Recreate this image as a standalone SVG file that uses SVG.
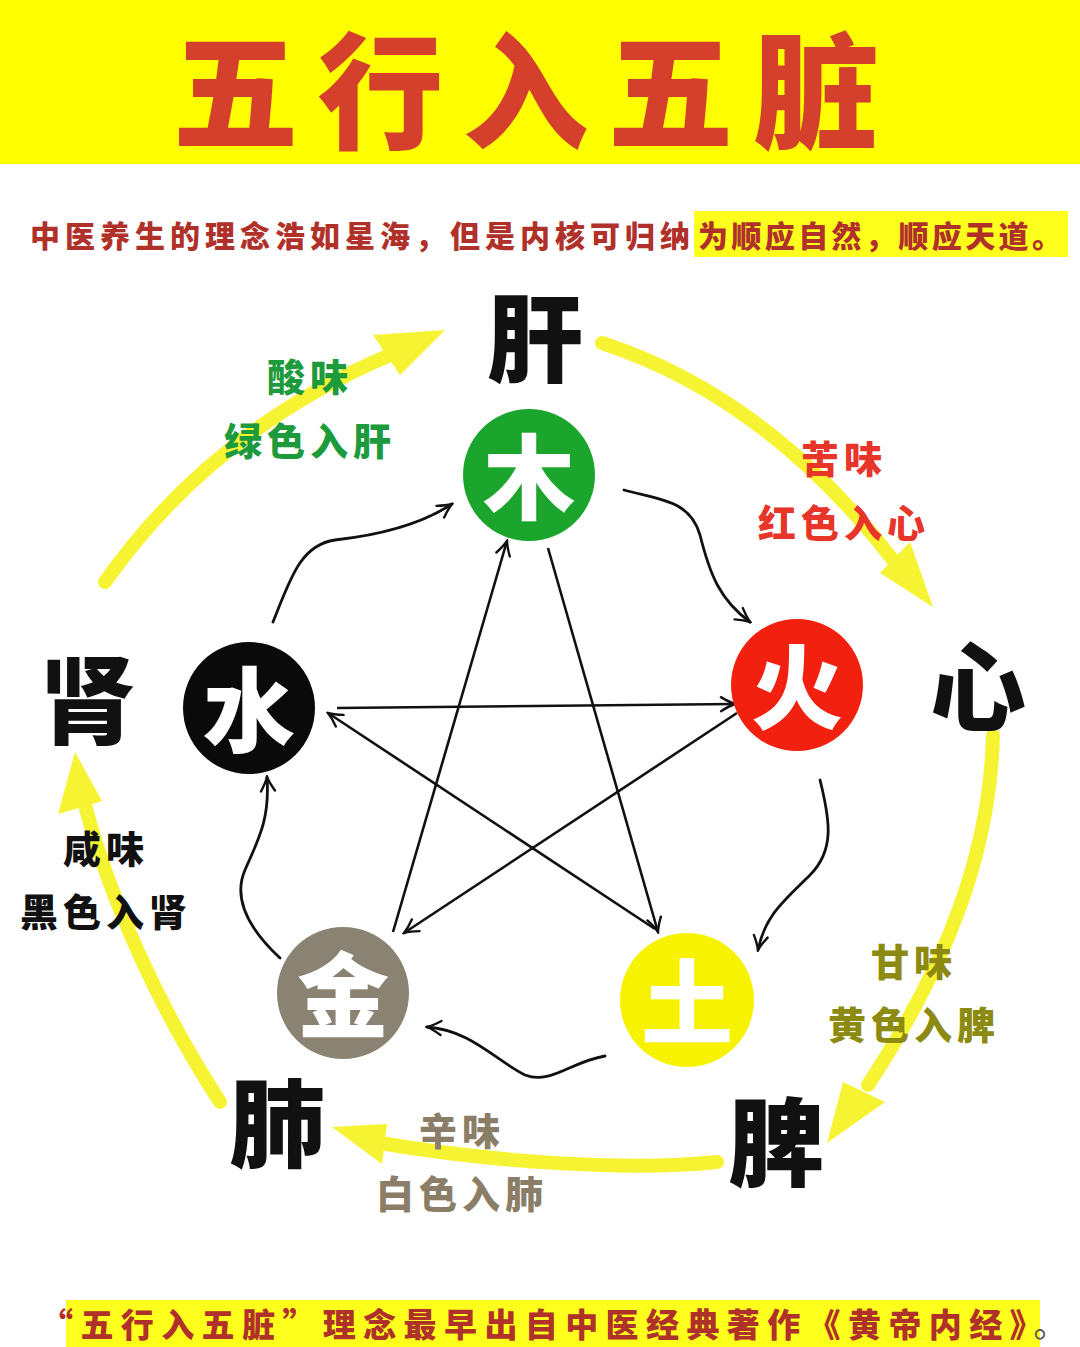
<svg xmlns="http://www.w3.org/2000/svg" width="1080" height="1347" viewBox="0 0 1080 1347">
<defs>
<style>
.cjk{font-family:"Noto Sans CJK SC","Noto Sans CJK TC",sans-serif;font-weight:900;}
.organ{font-size:96px;fill:#111;text-anchor:middle;dominant-baseline:central;}
.elem{font-size:92px;fill:#fff;text-anchor:middle;dominant-baseline:central;}
.lab{font-size:38px;text-anchor:middle;dominant-baseline:central;letter-spacing:5px;}
.star{stroke:#111;stroke-width:2.6;fill:none;marker-end:url(#ah);}
.curve{stroke:#111;stroke-width:2.8;fill:none;marker-end:url(#ah);stroke-linecap:round;}
.yl{stroke:#f6f332;stroke-width:14;fill:none;stroke-linecap:round;}
.yh{fill:#f6f332;}
</style>
<marker id="ah" viewBox="-16 -9 18 18" markerWidth="18" markerHeight="18" refX="0" refY="0" orient="auto" markerUnits="userSpaceOnUse">
<path d="M-14,-7 Q-6,-2 0,0 Q-6,2 -14,7" fill="none" stroke="#111" stroke-width="2.4" stroke-linecap="round"/>
</marker>
</defs>
<rect x="0" y="0" width="1080" height="1347" fill="#fff"/>
<!-- title band -->
<rect x="0" y="0" width="1080" height="164" fill="#ffff00"/>
<text class="cjk" x="535" y="84" font-size="126" fill="#d4402c" text-anchor="middle" dominant-baseline="central" letter-spacing="19">五行入五脏</text>
<!-- subtitle -->
<rect x="694" y="211" width="374" height="46" fill="#ffff1e"/>
<text class="cjk" x="30" y="234" font-size="30" fill="#b0302a" dominant-baseline="central" letter-spacing="5">中医养生的理念浩如星海，但是内核可归纳<tspan x="698" letter-spacing="3.4">为顺应自然，顺应天道。</tspan></text>
<!-- bottom line -->
<rect x="66" y="1300" width="974" height="47" fill="#ffff1e"/>
<text class="cjk" x="40" y="1323" font-size="33" fill="#b0302a" dominant-baseline="central" letter-spacing="7.4">“五行入五脏”理念最早出自中医经典著作《黄帝内经》<tspan fill="#555" font-weight="400">。</tspan></text>

<!-- yellow outer cycle -->
<g id="outer-cycle">
<path class="yl" d="M105 582 C170 490 260 410 390 355"/>
<polygon class="yh" points="373,335 400,375 445,330"/>
<path class="yl" d="M602 343 C700 375 800 440 893 560"/>
<polygon class="yh" points="880,573 910,542 933,607"/>
<path class="yl" d="M993 735 C990 850 950 960 868 1085"/>
<polygon class="yh" points="843,1082 885,1102 827,1143"/>
<path class="yl" d="M717 1162 C620 1172 480 1160 380 1143"/>
<polygon class="yh" points="387,1124 382,1164 332,1127"/>
<path class="yl" d="M220 1102 C160 1010 110 900 85 805"/>
<polygon class="yh" points="58,814 102,801 75,752"/>
</g>

<!-- connectors -->
<g id="connectors">
<line class="star" x1="393" y1="932" x2="507" y2="541"/>
<line class="star" x1="548" y1="548" x2="658" y2="932"/>
<line class="star" x1="337" y1="708" x2="735" y2="704"/>
<line class="star" x1="737" y1="713" x2="404" y2="933"/>
<line class="star" x1="655" y1="929" x2="328" y2="713"/>
<path class="curve" d="M273 622 C290 580 300 545 335 540 C380 535 420 525 452 504"/>
<path class="curve" d="M624 490 C660 500 690 500 700 535 C710 575 720 600 750 622"/>
<path class="curve" d="M820 780 C830 820 835 850 810 875 C785 900 765 915 758 950"/>
<path class="curve" d="M605 1056 C570 1062 550 1085 525 1075 C495 1060 470 1030 427 1027"/>
<path class="curve" d="M280 958 C250 930 232 900 245 870 C258 840 270 820 267 777"/>
</g>

<!-- element nodes -->
<g id="node-wood"><circle cx="529" cy="475" r="66" fill="#1ba52c"/><text class="cjk elem" x="529" y="471">木</text></g>
<g id="node-fire"><circle cx="797" cy="685" r="66" fill="#f2200e"/><text class="cjk elem" x="797" y="681">火</text></g>
<g id="node-earth"><circle cx="687" cy="1000" r="67" fill="#f7f200"/><text class="cjk elem" x="687" y="996">土</text></g>
<g id="node-metal"><circle cx="343" cy="993" r="66" fill="#8a8272"/><text class="cjk elem" x="343" y="989">金</text></g>
<g id="node-water"><circle cx="249" cy="708" r="66" fill="#0a0a0a"/><text class="cjk elem" x="249" y="704">水</text></g>

<!-- organ nodes -->
<g id="organ-liver"><text class="cjk organ" x="535" y="332">肝</text></g>
<g id="organ-heart"><text class="cjk organ" x="978" y="681">心</text></g>
<g id="organ-spleen"><text class="cjk organ" x="776" y="1136">脾</text></g>
<g id="organ-lung"><text class="cjk organ" x="277" y="1117">肺</text></g>
<g id="organ-kidney"><text class="cjk organ" x="88" y="694">肾</text></g>

<!-- labels -->
<g id="label-liver" fill="#1d9a3c">
<text class="cjk lab" x="310" y="374">酸味</text>
<text class="cjk lab" x="310" y="438">绿色入肝</text>
</g>
<g id="label-heart" fill="#e8352a">
<text class="cjk lab" x="844" y="456">苦味</text>
<text class="cjk lab" x="844" y="520">红色入心</text>
</g>
<g id="label-spleen" fill="#8c8a10">
<text class="cjk lab" x="914" y="959">甘味</text>
<text class="cjk lab" x="914" y="1022">黄色入脾</text>
</g>
<g id="label-lung" fill="#8a7e68">
<text class="cjk lab" x="462" y="1128">辛味</text>
<text class="cjk lab" x="462" y="1191">白色入肺</text>
</g>
<g id="label-kidney" fill="#111">
<text class="cjk lab" x="106" y="846">咸味</text>
<text class="cjk lab" x="106" y="909">黑色入肾</text>
</g>
</svg>
